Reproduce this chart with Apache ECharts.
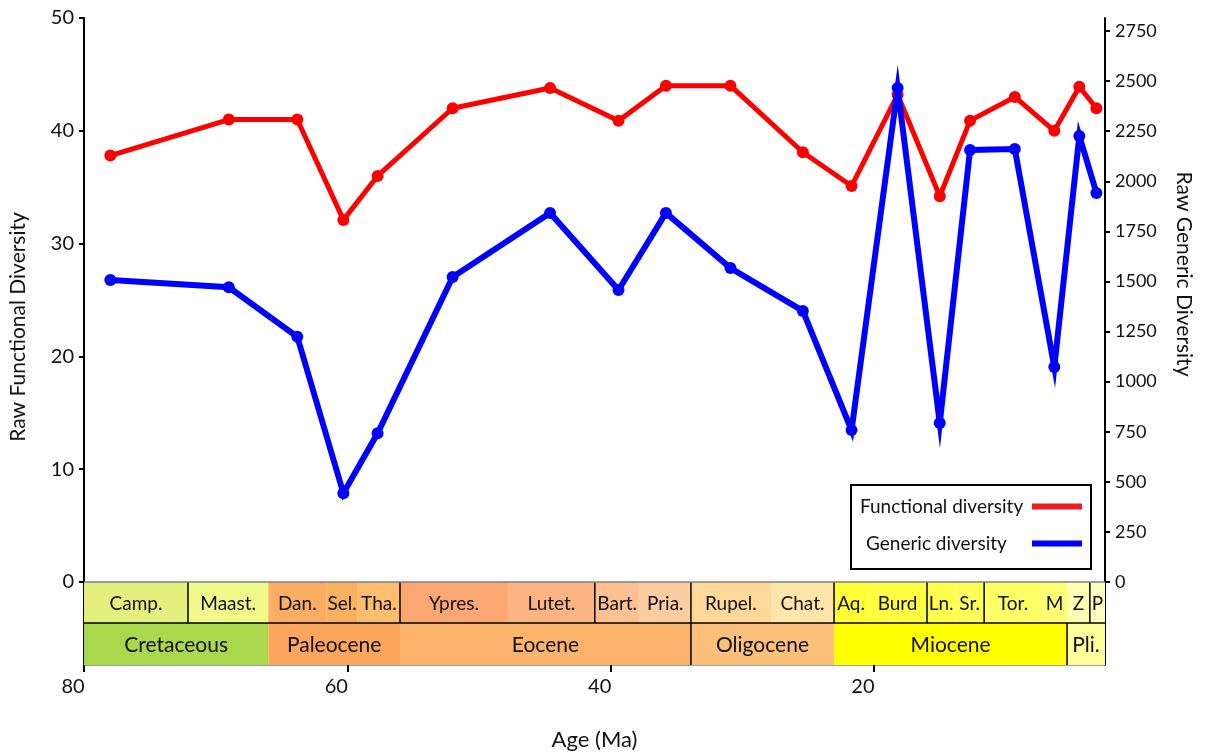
<!DOCTYPE html>
<html>
<head>
<meta charset="utf-8">
<script src="https://cdn.jsdelivr.net/npm/echarts@6/dist/echarts.min.js"></script>
<style>
  html, body { margin: 0; padding: 0; background: #ffffff; }
  #chart { width: 1208px; height: 756px; }
</style>
</head>
<body>
<div id="chart"></div>
<script>
// Sample ages (Ma) shared by both diversity curves
const ages = [78.0, 69.0, 63.8, 60.3, 57.7, 52.0, 44.6, 39.4, 35.8, 30.9, 25.4, 21.7, 18.2, 15.0, 12.7, 9.3, 6.3, 4.4, 3.1];
// Raw functional diversity (left axis)
const functionalDiversity = [37.8, 41.0, 41.0, 32.1, 36.0, 42.0, 43.8, 40.9, 44.0, 44.0, 38.1, 35.1, 43.2, 34.2, 40.9, 43.0, 40.0, 43.9, 42.0];
// Raw generic diversity (right axis)
const genericDiversity = [1507, 1471, 1224, 443, 742, 1522, 1842, 1457, 1842, 1567, 1353, 758, 2466, 794, 2156, 2161, 1073, 2226, 1942];

// Tick values
const ageTicks = [20, 40, 60, 80];
const functionalTicks = [0, 10, 20, 30, 40, 50];
const genericTicks = [0, 250, 500, 750, 1000, 1250, 1500, 1750, 2000, 2250, 2500, 2750];

// Geological stages: label and base age (Ma); each runs up to the next one
const stageNames = ['Camp.', 'Maast.', 'Dan.', 'Sel.', 'Tha.', 'Ypres.', 'Lutet.', 'Bart.', 'Pria.', 'Rupel.', 'Chat.', 'Aq.', 'Burd', 'Ln.', 'Sr.', 'Tor.', 'M', 'Z', 'P'];
const stageBases = [83.6, 72.1, 66.0, 61.6, 59.2, 56.0, 47.8, 41.2, 37.8, 33.9, 27.82, 23.03, 20.44, 15.97, 13.82, 11.63, 7.246, 5.333, 3.6];
// Epochs
const epochNames = ['Cretaceous', 'Paleocene', 'Eocene', 'Oligocene', 'Miocene', 'Pli.'];
const epochBases = [80.0, 66.0, 56.0, 33.9, 23.03, 5.333];
// Younger limit of the plotted interval
const youngestAge = 2.45;
// Boundaries outlined in black
const stageDividers = [72.1, 56.0, 41.2, 33.9, 23.03, 15.97, 11.63, 3.6];
const epochDividers = [33.9, 5.333];

// Timescale fill colours
const stageColors = ['#e4f07e', '#f1f98b', '#fbae61', '#f8b15e', '#fcbd6f', '#fba773', '#fcb482', '#fdc091', '#fdcda1', '#fed99a', '#fee5aa', '#ffff33', '#ffff41', '#ffff4d', '#ffff59', '#ffff66', '#ffff73', '#ffffb3', '#ffffbf'];
const epochColors = ['#a9d84c', '#fca55d', '#fcb36b', '#fcc07a', '#ffff00', '#ffff9c'];

const FONT = 'Lato';
const AGE_MAX = 80;
// Left axis extends below zero to make room for the timescale bands
const FD_MIN = -7.36, FD_MAX = 50;
const GD_MIN = -414.3, GD_MAX = 2814.9;
const ROW_SPLIT = -3.63;

function spans(bases) {
  return bases.map((b, i) => [b, i + 1 < bases.length ? bases[i + 1] : youngestAge, 0]);
}

function cellRenderer(names, colors, yTop, yBottom, fontSize) {
  return function (params, api) {
    const i = params.dataIndex;
    const older = Math.min(api.value(0), AGE_MAX);
    const younger = Math.max(api.value(1), youngestAge);
    const a = api.coord([older, yTop]);
    const b = api.coord([younger, yBottom]);
    return {
      type: 'group',
      children: [
        { type: 'rect', shape: { x: a[0], y: a[1], width: b[0] - a[0], height: b[1] - a[1] }, style: { fill: colors[i] } },
        { type: 'text', style: { text: names[i], x: (a[0] + b[0]) / 2, y: (a[1] + b[1]) / 2 + 1, align: 'center', verticalAlign: 'middle', fontSize: fontSize, fontFamily: FONT, fill: '#111' } }
      ]
    };
  };
}

function dividerRenderer(params, api) {
  const age = api.value(0);
  const row = api.value(2);
  const yTop = row === 0 ? 0 : ROW_SPLIT;
  const yBottom = row === 0 ? ROW_SPLIT : FD_MIN;
  const a = api.coord([age, yTop]);
  const b = api.coord([age, yBottom]);
  return { type: 'line', shape: { x1: a[0], y1: a[1], x2: b[0], y2: b[1] }, style: { stroke: '#000', lineWidth: 1.5 } };
}

function frameRenderer(params, api) {
  const l0 = api.coord([AGE_MAX, 0]);
  const r0 = api.coord([youngestAge, 0]);
  const l1 = api.coord([AGE_MAX, ROW_SPLIT]);
  const r1 = api.coord([youngestAge, ROW_SPLIT]);
  return {
    type: 'group',
    children: [
      { type: 'line', shape: { x1: l0[0], y1: l0[1], x2: r0[0], y2: r0[1] }, style: { stroke: '#808080', lineWidth: 1.5 } },
      { type: 'line', shape: { x1: l1[0], y1: l1[1], x2: r1[0], y2: r1[1] }, style: { stroke: '#000', lineWidth: 1.5 } }
    ]
  };
}

const chart = echarts.init(document.getElementById('chart'), null, { renderer: 'canvas' });

chart.setOption({
  backgroundColor: '#ffffff',
  animation: false,
  textStyle: { fontFamily: FONT },
  grid: { left: 84, right: 103, top: 18, bottom: 91, outerBoundsMode: 'none', containLabel: false },
  xAxis: {
    type: 'value',
    inverse: true,
    min: youngestAge,
    max: AGE_MAX,
    name: 'Age (Ma)',
    nameLocation: 'middle',
    nameGap: 64,
    nameTextStyle: { fontSize: 22, fontFamily: FONT, color: '#111' },
    axisLine: { onZero: false, lineStyle: { color: '#808080', width: 1.5 } },
    axisTick: { show: true, length: 7, customValues: ageTicks, lineStyle: { color: '#000', width: 2 } },
    axisLabel: { customValues: ageTicks, margin: 12, fontSize: 20, fontFamily: FONT, color: '#111', padding: [0, 22, 0, 0] },
    splitLine: { show: false }
  },
  yAxis: [
    {
      type: 'value',
      position: 'left',
      min: FD_MIN,
      max: FD_MAX,
      axisLine: { show: true, onZero: false, lineStyle: { color: '#000', width: 2 } },
      axisTick: { show: true, length: 5, customValues: functionalTicks, lineStyle: { color: '#000', width: 2 } },
      axisLabel: { customValues: functionalTicks, margin: 10, fontSize: 20, fontFamily: FONT, color: '#111' },
      splitLine: { show: false }
    },
    {
      type: 'value',
      position: 'right',
      min: GD_MIN,
      max: GD_MAX,
      axisLine: { show: true, onZero: false, lineStyle: { color: '#000', width: 2 } },
      axisTick: { show: true, length: 5, customValues: genericTicks, lineStyle: { color: '#000', width: 2 } },
      axisLabel: {
        customValues: genericTicks,
        formatter: v => String(v),
        margin: 10, fontSize: 18, fontFamily: FONT, color: '#111', padding: [0, 0, 8, 0]
      },
      splitLine: { show: false }
    }
  ],
  legend: {
    orient: 'vertical',
    left: 851,
    top: 485,
    padding: [12, 9, 16, 9],
    itemGap: 18,
    align: 'right',
    icon: 'rect',
    itemWidth: 50,
    itemHeight: 6,
    selectedMode: false,
    borderColor: '#000',
    borderWidth: 2,
    itemStyle: { borderWidth: 0 },
    formatter: function (name) {
      return name === 'Generic diversity' ? '{g|' + name + '}' : '{f|' + name + '}';
    },
    textStyle: {
      fontSize: 19,
      fontFamily: FONT,
      color: '#111',
      rich: {
        f: { width: 167, align: 'left', fontSize: 19, fontFamily: FONT, color: '#111' },
        g: { width: 161, align: 'left', fontSize: 19, fontFamily: FONT, color: '#111' }
      }
    },
    data: [
      { name: 'Functional diversity', itemStyle: { color: '#ec1c24' } },
      { name: 'Generic diversity', itemStyle: { color: '#0000ff' } }
    ]
  },
  graphic: [
    { type: 'text', x: 18, y: 327, rotation: Math.PI / 2, style: { text: 'Raw Functional Diversity', x: 0, y: 0, align: 'center', verticalAlign: 'middle', fontSize: 21, fontFamily: FONT, fill: '#111' } },
    { type: 'text', x: 1184, y: 274, rotation: -Math.PI / 2, style: { text: 'Raw Generic Diversity', x: 0, y: 0, align: 'center', verticalAlign: 'middle', fontSize: 21, fontFamily: FONT, fill: '#111' } }
  ],
  series: [
    {
      name: 'Stages', type: 'custom', xAxisIndex: 0, yAxisIndex: 0, z: 1, silent: true,
      encode: { x: [0, 1], y: 2 },
      data: spans(stageBases),
      renderItem: cellRenderer(stageNames, stageColors, 0, ROW_SPLIT, 19)
    },
    {
      name: 'Epochs', type: 'custom', xAxisIndex: 0, yAxisIndex: 0, z: 1, silent: true,
      encode: { x: [0, 1], y: 2 },
      data: spans(epochBases),
      renderItem: cellRenderer(epochNames, epochColors, ROW_SPLIT, FD_MIN, 21)
    },
    {
      name: 'Dividers', type: 'custom', xAxisIndex: 0, yAxisIndex: 0, z: 2, silent: true,
      encode: { x: 0, y: 1 },
      data: stageDividers.map(a => [a, 0, 0]).concat(epochDividers.map(a => [a, 0, 1])),
      renderItem: dividerRenderer
    },
    {
      name: 'Frame', type: 'custom', xAxisIndex: 0, yAxisIndex: 0, z: 2, silent: true,
      encode: { x: 0, y: 1 },
      data: [[AGE_MAX, 0]],
      renderItem: frameRenderer
    },
    {
      name: 'Functional diversity',
      type: 'line',
      xAxisIndex: 0,
      yAxisIndex: 0,
      z: 3,
      data: ages.map((a, i) => [a, functionalDiversity[i]]),
      symbol: 'circle',
      symbolSize: 12,
      showAllSymbol: true,
      itemStyle: { color: '#ff0000', borderWidth: 0 },
      lineStyle: { color: '#ff0000', width: 5, join: 'round' }
    },
    {
      name: 'Generic diversity',
      type: 'line',
      xAxisIndex: 0,
      yAxisIndex: 1,
      z: 4,
      data: ages.map((a, i) => [a, genericDiversity[i]]),
      symbol: 'circle',
      symbolSize: 12,
      showAllSymbol: true,
      itemStyle: { color: '#0000ff', borderWidth: 0 },
      lineStyle: { color: '#0000ff', width: 6, join: 'miter', miterLimit: 10 }
    }
  ]
});
</script>
</body>
</html>
